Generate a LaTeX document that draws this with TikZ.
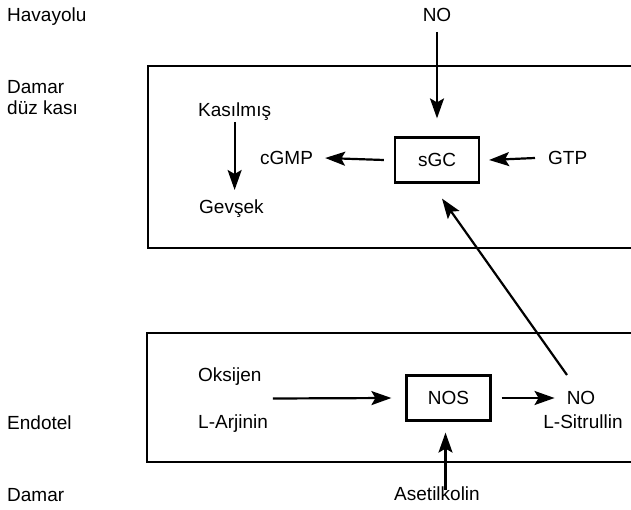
\documentclass[tikz,border=0pt]{standalone}
\usepackage{fontspec}
\setmainfont{Liberation Sans}
\usetikzlibrary{arrows.meta,calc}
\tikzset{
  lbl/.style={font=\fontsize{19}{22}\selectfont, inner sep=0pt, text height=13.6pt, text depth=0pt},
  enz/.style={lbl, draw, line width=2.2pt, minimum width=84pt, minimum height=45pt},
  arr/.style={line width=2.2pt, -{Stealth[length=20pt,width=14pt,inset=4pt]}},
  frame/.style={line width=2.2pt}
}
\begin{document}
\begin{tikzpicture}[x=1pt,y=-1pt]
\useasboundingbox (0,0) rectangle (631,510);
% frames (open on the right)
\draw[frame] (640,66) -- (148,66) -- (148,248) -- (640,248);
\draw[frame] (640,333) -- (147,333) -- (147,462) -- (640,462);
% left labels
\node[lbl, anchor=west] (hav) at (7,15) {Havayolu};
\node[lbl, anchor=west] (dam1) at (7,87) {Damar};
\node[lbl, anchor=west] (duz) at (7,108) {düz kası};
\node[lbl, anchor=west] (endo) at (7,423) {Endotel};
\node[lbl, anchor=west] (dam2) at (7,495) {Damar};
% upper compartment
\node[lbl] (notop) at (437,15) {NO};
\node[enz] (sgc) at (437,160) {sGC};
\node[lbl, anchor=west] (kas) at (198,110) {Kasılmış};
\node[lbl, anchor=west] (gev) at (199,207) {Gevşek};
\node[lbl, anchor=west] (cgmp) at (260,158) {cGMP};
\node[lbl, anchor=west] (gtp) at (548,158) {GTP};
% lower compartment
\node[lbl, anchor=west] (oks) at (198,375) {Oksijen};
\node[lbl, anchor=west] (larj) at (198,422) {L-Arjinin};
\node[enz] (nos) at (448.5,398) {NOS};
\node[lbl] (no2) at (581,398) {NO};
\node[lbl] (lsit) at (583,422) {L-Sitrullin};
\node[lbl] (ase) at (437,494) {Asetilkolin};
% connectors
\draw[arr] ([yshift=-10pt]notop.south) -- ([yshift=18pt]sgc.north);
\draw[arr] ([yshift=-5pt]kas.south) -- ([yshift=10pt]kas.south |- gev.north);
\draw[arr] ([xshift=-10pt]sgc.west) -- ([xshift=12pt]cgmp.east);
\draw[arr] ([xshift=-13pt]gtp.west) -- ([xshift=9pt]sgc.east);
\draw[arr] ([xshift=-14pt,yshift=16pt]no2.north) -- ([xshift=5pt,yshift=-15pt]sgc.south);
\draw[arr] ([xshift=8pt]$(oks.east)!.5!(larj.east)$) -- ([xshift=-14pt]nos.west);
\draw[arr] ([xshift=10pt]nos.east) -- ([xshift=-12pt]no2.west);
\draw[arr] ([xshift=-3pt,yshift=-3pt]ase.north -| nos.south) -- ([xshift=-3pt,yshift=-11pt]nos.south);
\end{tikzpicture}
\end{document}
